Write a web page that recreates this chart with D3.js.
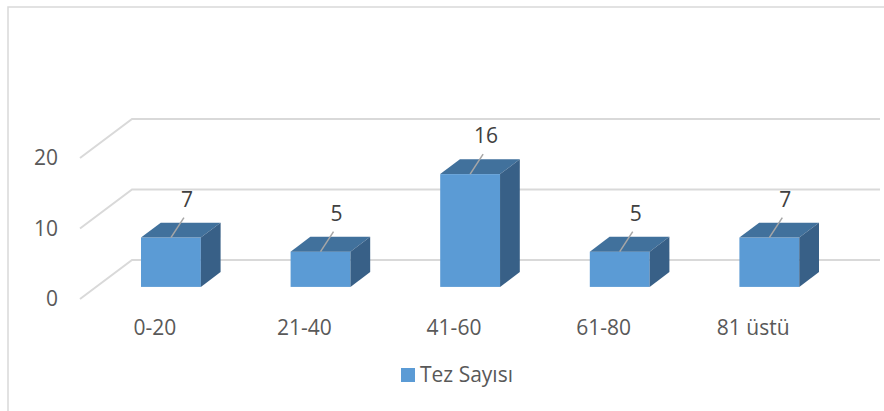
<!DOCTYPE html>
<html>
<head>
<meta charset="utf-8">
<script src="https://cdn.jsdelivr.net/npm/d3@7"></script>
<style>
    body { margin: 0; background: #fff; }
    text { font-family: "Open Sans", sans-serif; fill: #595959; }
</style>
</head>
<body>
<div id="chart"></div>
<script>
const categories = ['0-20', '21-40', '41-60', '61-80', '81 üstü'];
const values = [7, 5, 16, 5, 7];
const yTicks = [0, 10, 20];
const seriesName = 'Tez Sayısı';

const width = 884, height = 411;
const depthX = 52, depthY = 39;      // floor depth in px
const barFront = 0.31, barBack = 0.69; // bar placement inside the depth

const svg = d3.select('#chart').append('svg')
    .attr('width', width)
    .attr('height', height);

// outer chart border (left + top only visible)
svg.append('path')
    .attr('d', `M8,${height}V7H${width}`)
    .attr('fill', 'none')
    .attr('stroke', '#d9d9d9')
    .attr('stroke-width', 1.5);

const x = d3.scaleBand().domain(categories).range([80, 828]);
const y = d3.scaleLinear().domain([0, 20]).range([299, 158]);

// gridlines: diagonal on the side wall + back wall line
const grid = svg.append('g').attr('stroke', '#d9d9d9').attr('stroke-width', 2).attr('fill', 'none');
yTicks.forEach(t => {
    grid.append('path')
        .attr('d', `M80,${y(t)}L${80 + depthX},${y(t) - depthY}H${828 + depthX}`);
});

// y axis labels
const yAxis = svg.append('g')
    .attr('transform', 'translate(80,0)')
    .call(d3.axisLeft(y).tickValues(yTicks).tickSize(0).tickPadding(22));
yAxis.select('.domain').remove();
yAxis.selectAll('text').style('font-size', '21px').attr('fill', '#595959').attr('font-family', 'Open Sans');

// category labels
const xAxis = svg.append('g')
    .attr('transform', 'translate(0,320)')
    .call(d3.axisBottom(x).tickSize(0).tickPadding(0));
xAxis.select('.domain').remove();
xAxis.selectAll('text').style('font-size', '21px').attr('fill', '#595959').attr('font-family', 'Open Sans');

// 3D bars
const bw = x.bandwidth() * 0.4;
const ddx = (barBack - barFront) * depthX;
const ddy = (barBack - barFront) * depthY;

const bars = svg.append('g').selectAll('g.bar')
    .data(categories.map((c, i) => ({ cat: c, value: values[i] })))
    .enter().append('g').attr('class', 'bar');

bars.each(function (d) {
    const g = d3.select(this);
    const x0 = x(d.cat) + (x.bandwidth() - bw) / 2 + barFront * depthX;
    const bottom = y(0) - barFront * depthY;
    const top = y(d.value) - barFront * depthY;

    g.append('rect')
        .attr('x', x0).attr('y', top)
        .attr('width', bw).attr('height', bottom - top)
        .attr('fill', '#5b9bd5');
    g.append('path')
        .attr('d', `M${x0},${top}H${x0 + bw}L${x0 + bw + ddx},${top - ddy}H${x0 + ddx}Z`)
        .attr('fill', '#41719c');
    g.append('path')
        .attr('d', `M${x0 + bw},${top}L${x0 + bw + ddx},${top - ddy}V${bottom - ddy}L${x0 + bw},${bottom}Z`)
        .attr('fill', '#386087');

    // value label with leader line
    const cx = x0 + bw / 2;
    g.append('line')
        .attr('x1', cx).attr('y1', top)
        .attr('x2', cx + 13).attr('y2', top - 20)
        .attr('stroke', '#a6a6a6').attr('stroke-width', 1.5);
    g.append('text')
        .attr('x', cx + 16).attr('y', top - 31)
        .attr('text-anchor', 'middle')
        .style('font-size', '21px')
        .style('fill', '#404040')
        .text(d.value);
});

// legend
const legend = svg.append('g').attr('transform', 'translate(401,368)');
legend.append('rect').attr('width', 14).attr('height', 14).attr('fill', '#5b9bd5');
legend.append('text').attr('x', 19).attr('y', 14).style('font-size', '21px').text(seriesName);
</script>
</body>
</html>
